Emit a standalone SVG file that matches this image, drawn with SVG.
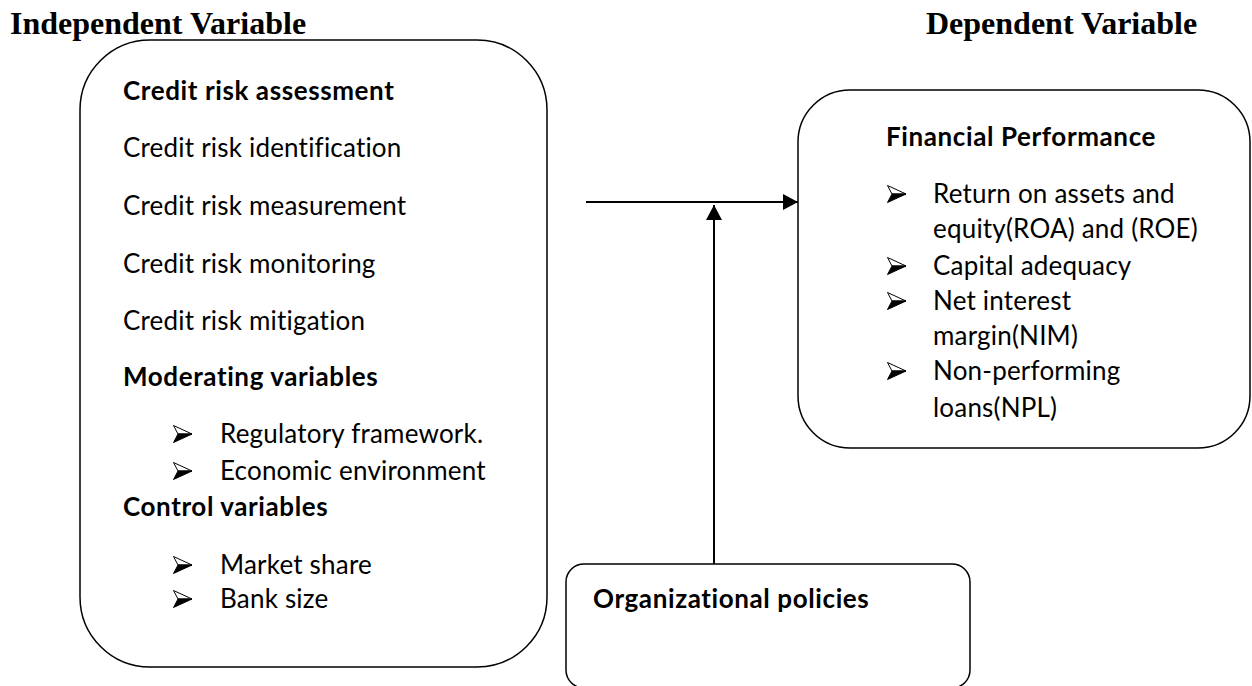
<svg xmlns="http://www.w3.org/2000/svg" width="1252" height="686" viewBox="0 0 1252 686">
  <style>
    .box { fill: #ffffff; stroke: #000000; stroke-width: 1.5; }
    .head { font-family: "Liberation Serif", "Times New Roman", serif; font-weight: bold; font-size: 32px; fill: #000; }
    .t { font-family: Lato, "Open Sans", sans-serif; font-size: 26px; letter-spacing: 0.2px; fill: #000; }
    .b { font-weight: bold; letter-spacing: 0.6px; }
    .edge { stroke: #000; stroke-width: 2; fill: none; }
  </style>
  <defs>
    <marker id="arrow" markerUnits="userSpaceOnUse" markerWidth="16" markerHeight="16" refX="15" refY="8" orient="auto">
      <path d="M0,0 L15,8 L0,16 z" fill="#000"/>
    </marker>
    <!-- shaded arrowhead bullet: outlined upper half, solid lower half -->
    <symbol id="bullet" viewBox="0 0 20 18" width="20" height="18" overflow="visible">
      <path d="M0.5,0.5 L19,9 L5,9 z" fill="#fff" stroke="#000" stroke-width="1" stroke-linejoin="miter"/>
      <path d="M5,9 L19,9 L0.5,17.5 z" fill="#000" stroke="#000" stroke-width="1"/>
    </symbol>
  </defs>

  <rect width="1252" height="686" fill="#ffffff"/>

  <text class="head" x="10" y="34">Independent Variable</text>
  <text class="head" x="926" y="34">Dependent Variable</text>

  <g id="independent">
    <rect class="box" x="80" y="40" width="467" height="627" rx="70" ry="70"/>
    <text class="t b" x="123" y="100">Credit risk assessment</text>
    <text class="t" x="123" y="157">Credit risk identification</text>
    <text class="t" x="123" y="215">Credit risk measurement</text>
    <text class="t" x="123" y="273">Credit risk monitoring</text>
    <text class="t" x="123" y="330">Credit risk mitigation</text>
    <text class="t b" x="123" y="386">Moderating variables</text>
    <use href="#bullet" x="173" y="425"/>
    <text class="t" x="220" y="443">Regulatory framework.</text>
    <use href="#bullet" x="173" y="462"/>
    <text class="t" x="220" y="480">Economic environment</text>
    <text class="t b" x="123" y="516">Control variables</text>
    <use href="#bullet" x="173" y="556"/>
    <text class="t" x="220" y="574">Market share</text>
    <use href="#bullet" x="173" y="590"/>
    <text class="t" x="220" y="608">Bank size</text>
  </g>

  <g id="dependent">
    <rect class="box" x="798" y="90" width="452" height="358" rx="52" ry="52"/>
    <text class="t b" x="886" y="146">Financial Performance</text>
    <use href="#bullet" x="887" y="185"/>
    <text class="t" x="933" y="203">Return on assets and</text>
    <text class="t" x="933" y="238">equity(ROA) and (ROE)</text>
    <use href="#bullet" x="887" y="257"/>
    <text class="t" x="933" y="275">Capital adequacy</text>
    <use href="#bullet" x="887" y="292"/>
    <text class="t" x="933" y="310">Net interest</text>
    <text class="t" x="933" y="345">margin(NIM)</text>
    <use href="#bullet" x="887" y="362"/>
    <text class="t" x="933" y="380">Non-performing</text>
    <text class="t" x="933" y="417">loans(NPL)</text>
  </g>

  <g id="policies">
    <rect class="box" x="566" y="564" width="404" height="124" rx="18" ry="18"/>
    <text class="t b" x="593" y="608">Organizational policies</text>
  </g>

  <g id="connectors">
    <line class="edge" x1="586" y1="202" x2="798" y2="202" marker-end="url(#arrow)"/>
    <line class="edge" x1="714" y1="564" x2="714" y2="205" marker-end="url(#arrow)"/>
  </g>
</svg>
